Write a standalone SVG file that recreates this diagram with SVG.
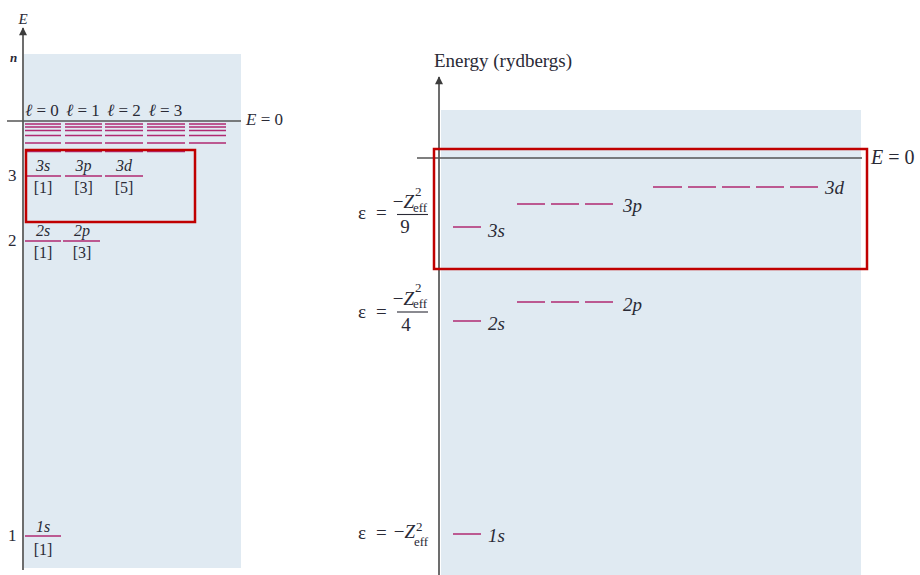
<svg xmlns="http://www.w3.org/2000/svg" width="920" height="575" viewBox="0 0 920 575">
<style>
  .bg { fill: #e0eaf2; }
  .axis { stroke: #3c3c3c; stroke-width: 1.5; fill: none; }
  .zero { stroke: #555; stroke-width: 1.4; fill: none; }
  .lvl { stroke: #b02a72; stroke-width: 1.5; fill: none; }
  .box { stroke: #c00000; stroke-width: 2.5; fill: none; }
  .t { font-family: "Liberation Serif", "DejaVu Serif", serif; fill: #2a2a36; }
  .it { font-style: italic; }
  .s15 { font-size: 15px; }
  .s16 { font-size: 16px; }
  .s17 { font-size: 17px; }
  .s19 { font-size: 19px; }
  .s13 { font-size: 13px; }
  .mid { text-anchor: middle; }
  .end { text-anchor: end; }
</style>
<defs>
  <marker id="arr" viewBox="0 0 10 10" refX="9" refY="5" markerWidth="12" markerHeight="8" markerUnits="userSpaceOnUse" orient="auto">
    <path d="M0,0 L10,5 L0,10 z" fill="#3c3c3c"/>
  </marker>
</defs>

<!-- LEFT PANEL -->
<g id="left-panel">
  <rect class="bg" x="24" y="54" width="217" height="514"/>
</g>
<g id="left-axes">
  <line class="axis" x1="23" y1="570" x2="23" y2="28" marker-end="url(#arr)"/>
  <line class="zero" x1="7" y1="121" x2="241" y2="121"/>
  <text class="t it s15 mid" x="23" y="24">E</text>
  <text class="t it s13" x="10" y="62" font-weight="bold">n</text>
  <text class="t s17" x="246" y="125"><tspan class="it">E</tspan> = 0</text>
</g>
<g id="left-l-labels">
  <text class="t s17 mid" x="42" y="116"><tspan class="it">ℓ</tspan> = 0</text>
  <text class="t s17 mid" x="83" y="116"><tspan class="it">ℓ</tspan> = 1</text>
  <text class="t s17 mid" x="124" y="116"><tspan class="it">ℓ</tspan> = 2</text>
  <text class="t s17 mid" x="165.5" y="116"><tspan class="it">ℓ</tspan> = 3</text>
</g>
<g id="left-high-levels">
  <path class="lvl" d="M25,124H61M65,124H102M105,124H143M147,124H185M189,124H226
                       M25,127H61M65,127H102M105,127H143M147,127H185M189,127H226
                       M25,130.5H61M65,130.5H102M105,130.5H143M147,130.5H185M189,130.5H226
                       M25,135.5H61M65,135.5H102M105,135.5H143M147,135.5H185M189,135.5H226
                       M25,143H61M65,143H102M105,143H143M147,143H185M189,143H226
                       M25,151.5H61M65,151.5H102M105,151.5H143M147,151.5H185"/>
</g>
<g id="left-n3">
  <text class="t s17" x="8" y="181">3</text>
  <path class="lvl" d="M25,176H61M65,176H102M105,176H143"/>
  <text class="t it s16 mid" x="43" y="171">3s</text>
  <text class="t it s16 mid" x="83.5" y="171">3p</text>
  <text class="t it s16 mid" x="124" y="171">3d</text>
  <text class="t s16 mid" x="43" y="193">[1]</text>
  <text class="t s16 mid" x="83.5" y="193">[3]</text>
  <text class="t s16 mid" x="124" y="193">[5]</text>
</g>
<g id="left-n2">
  <text class="t s17" x="8" y="246">2</text>
  <path class="lvl" d="M25,241H61M63,241H100"/>
  <text class="t it s16 mid" x="43" y="236">2s</text>
  <text class="t it s16 mid" x="82" y="236">2p</text>
  <text class="t s16 mid" x="43" y="258">[1]</text>
  <text class="t s16 mid" x="82" y="258">[3]</text>
</g>
<g id="left-n1">
  <text class="t s17" x="8" y="541">1</text>
  <path class="lvl" d="M25,536H61"/>
  <text class="t it s16 mid" x="43" y="532">1s</text>
  <text class="t s16 mid" x="43" y="555">[1]</text>
</g>
<g id="left-highlight">
  <rect class="box" x="26" y="150" width="169" height="72"/>
</g>

<!-- RIGHT PANEL -->
<g id="right-panel">
  <rect class="bg" x="441" y="110" width="420" height="465"/>
</g>
<g id="right-axes">
  <line class="axis" x1="439" y1="575" x2="439" y2="77" marker-end="url(#arr)"/>
  <line class="zero" x1="417" y1="158" x2="862" y2="158"/>
  <text class="t s19" x="434" y="67">Energy (rydbergs)</text>
  <text class="t" font-size="20" x="871" y="164"><tspan class="it">E</tspan> = 0</text>
</g>
<g id="right-n3">
  <path class="lvl" d="M453,227H481"/>
  <text class="t it s19" x="488" y="237">3s</text>
  <path class="lvl" d="M517,204H545M551,204H579M585,204H613"/>
  <text class="t it s19" x="623" y="212">3p</text>
  <path class="lvl" d="M653,187H682M688,187H716M722,187H750M756,187H784M790,187H818"/>
  <text class="t it s19" x="825" y="194">3d</text>
  <text class="t s19" x="358" y="219">ε</text>
  <text class="t s19" x="376" y="219">=</text>
  <text class="t s19 end" x="414" y="208">−<tspan class="it">Z</tspan></text>
  <text class="t s13" x="415" y="196">2</text>
  <text class="t s13" x="413" y="212">eff</text>
  <line x1="397" y1="214.5" x2="428" y2="214.5" stroke="#2a2a36" stroke-width="1.1"/>
  <text class="t s19 mid" x="405" y="233">9</text>
</g>
<g id="right-n2">
  <path class="lvl" d="M453,321H481"/>
  <text class="t it s19" x="488" y="330">2s</text>
  <path class="lvl" d="M517,302H545M551,302H579M585,302H613"/>
  <text class="t it s19" x="623" y="311">2p</text>
  <text class="t s19" x="358" y="318">ε</text>
  <text class="t s19" x="376" y="318">=</text>
  <text class="t s19 end" x="414" y="305">−<tspan class="it">Z</tspan></text>
  <text class="t s13" x="415" y="292">2</text>
  <text class="t s13" x="413" y="308">eff</text>
  <line x1="397" y1="312" x2="428" y2="312" stroke="#2a2a36" stroke-width="1.1"/>
  <text class="t s19 mid" x="406" y="331">4</text>
</g>
<g id="right-n1">
  <path class="lvl" d="M453,534H481"/>
  <text class="t it s19" x="488" y="542">1s</text>
  <text class="t s19" x="358" y="539">ε</text>
  <text class="t s19" x="376" y="539">=</text>
  <text class="t s19 end" x="415" y="538">−<tspan class="it">Z</tspan></text>
  <text class="t s13" x="416" y="531">2</text>
  <text class="t s13" x="414" y="546">eff</text>
</g>
<g id="right-highlight">
  <rect class="box" x="434" y="149" width="433" height="120"/>
</g>
</svg>
